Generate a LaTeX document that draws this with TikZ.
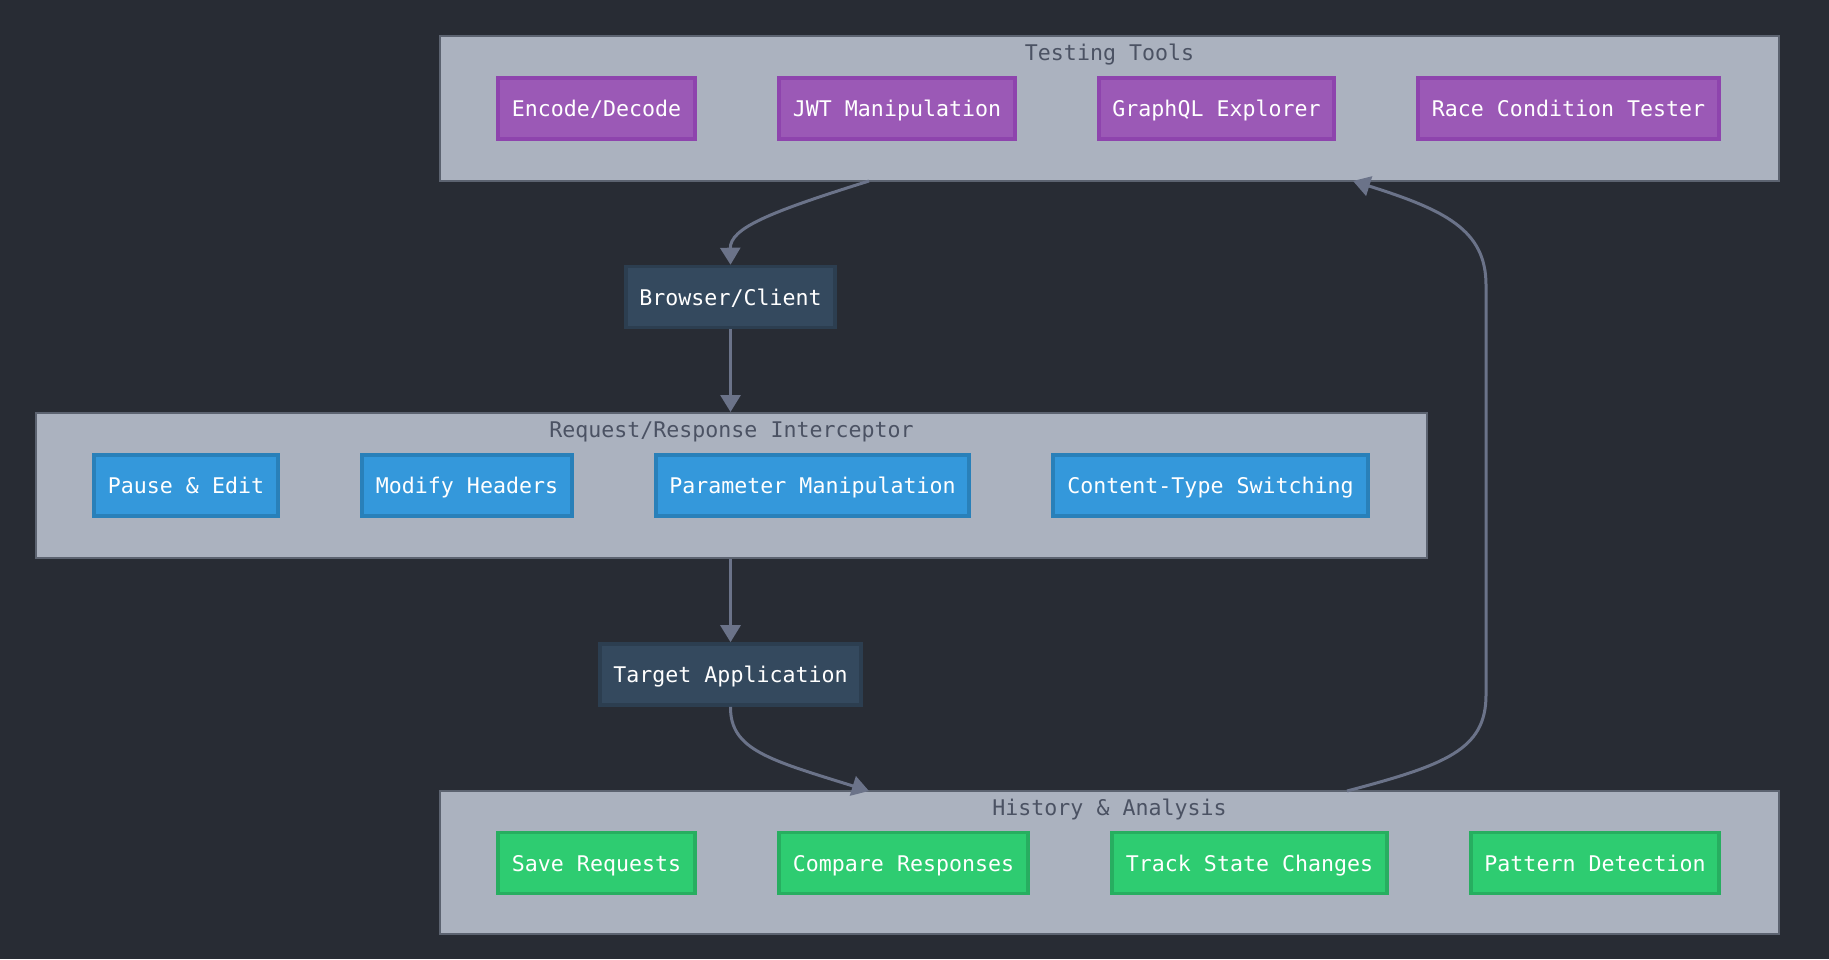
\documentclass[tikz,border=0pt]{standalone}
\usepackage{fontspec}
\setmonofont{DejaVu Sans Mono}
\usetikzlibrary{arrows.meta,positioning}

\definecolor{bgdark}{HTML}{282C34}
\definecolor{framefill}{HTML}{ABB2BF}
\definecolor{frameline}{HTML}{5C6370}
\definecolor{titletext}{HTML}{4B5263}
\definecolor{toolfill}{HTML}{9B59B6}
\definecolor{toolline}{HTML}{8E44AD}
\definecolor{proxyfill}{HTML}{3498DB}
\definecolor{proxyline}{HTML}{2980B9}
\definecolor{histfill}{HTML}{2ECC71}
\definecolor{histline}{HTML}{27AE60}
\definecolor{endfill}{HTML}{34495E}
\definecolor{endline}{HTML}{2C3E50}
\definecolor{flow}{HTML}{6B7389}

\begin{document}
\begin{tikzpicture}[x=0.5pt,y=-0.5pt,
 every node/.style={font=\ttfamily\fontsize{10.8}{12}\selectfont,inner sep=0pt,text height=7.8pt,text depth=2.2pt},
 frame/.style={draw=frameline,fill=framefill,line width=1pt},
 frametitle/.style={text=titletext,anchor=center},
 item/.style={line width=1.8pt,text=white,minimum height=30.5pt,text height=9pt,text depth=1pt},
 tool/.style={item,draw=toolline,fill=toolfill},
 proxy/.style={item,draw=proxyline,fill=proxyfill},
 hist/.style={item,draw=histline,fill=histfill},
 endpt/.style={item,draw=endline,fill=endfill},
 flowarrow/.style={draw=flow,line width=1.5pt,-{Triangle[length=8.5pt,width=10pt]}}]
\fill[bgdark] (0,0) rectangle (1829,959);
\useasboundingbox (0,0) rectangle (1829,959);

% testing tools
\node[frame,minimum width=669.5pt,minimum height=72.5pt] (tools) at (1109.5,108.5) {};
\node[frametitle] (toolstitle) at (1109.5,55) {Testing Tools};
\node[tool,minimum width=98.5pt] (encode) at (596.5,108.5) {Encode/Decode};
\node[tool,minimum width=118pt] (jwt) at (897,108.5) {JWT Manipulation};
\node[tool,minimum width=117.5pt] (graphql) at (1216.5,108.5) {GraphQL Explorer};
\node[tool,minimum width=150.5pt] (race) at (1568.5,108.5) {Race Condition Tester};

\node[endpt,minimum width=104.5pt] (browser) at (730.5,297) {Browser/Client};

% interceptor
\node[frame,minimum width=695.5pt,minimum height=72.5pt] (proxy) at (731.5,485.5) {};
\node[frametitle] (proxytitle) at (731.5,432) {Request/Response Interceptor};
\node[proxy,minimum width=92pt] (pause) at (186,485.5) {Pause \& Edit};
\node[proxy,minimum width=105pt] (headers) at (467,485.5) {Modify Headers};
\node[proxy,minimum width=156.5pt] (params) at (812.5,485.5) {Parameter Manipulation};
\node[proxy,minimum width=157.5pt] (ctype) at (1210.5,485.5) {Content-Type Switching};

\node[endpt,minimum width=130.5pt] (target) at (730.5,674.5) {Target Application};

% history
\node[frame,minimum width=669.5pt,minimum height=71.5pt] (history) at (1109.5,862.5) {};
\node[frametitle] (historytitle) at (1109.5,810) {History \& Analysis};
\node[hist,minimum width=98.5pt] (save) at (596.5,863) {Save Requests};
\node[hist,minimum width=124.5pt] (compare) at (903.5,863) {Compare Responses};
\node[hist,minimum width=137.5pt] (track) at (1249.5,863) {Track State Changes};
\node[hist,minimum width=124pt] (pattern) at (1595,863) {Pattern Detection};

\coordinate (toolsout) at (869,181);
\coordinate (toolsin) at (1353,181);
\coordinate (histin) at (869,791);
\coordinate (histout) at (1347,791);

\draw[flowarrow] (toolsout) .. controls (770,212) and (730,228) .. (browser.north);
\draw[flowarrow] (browser.south) -- (browser.south |- proxy.north);
\draw[flowarrow] (target.north |- proxy.south) -- (target.north);
\draw[flowarrow] (target.south) .. controls (730,750) and (770,760) .. (histin);
\draw[flowarrow] (histout) .. controls (1445,765) and (1486,750) .. (1486,695)
 -- (1486,285) .. controls (1486,230) and (1445,210) .. (toolsin);
\end{tikzpicture}
\end{document}
